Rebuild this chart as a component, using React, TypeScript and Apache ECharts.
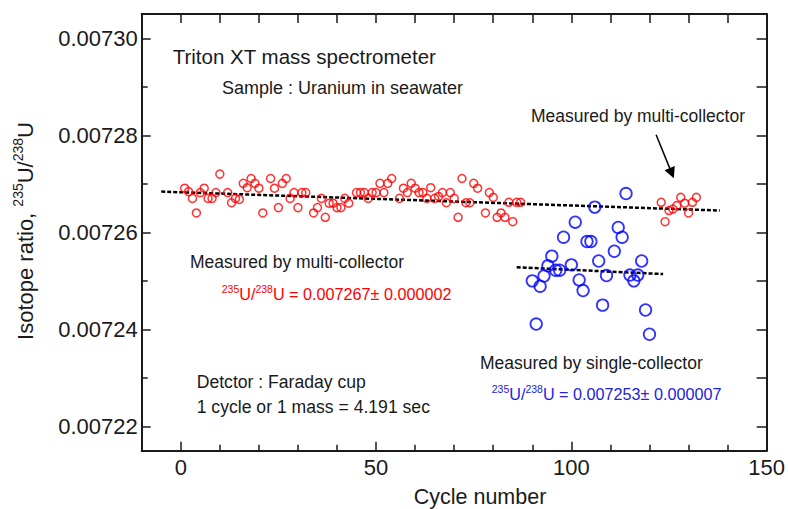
import React, { useEffect, useRef } from 'react';
import * as echarts from 'echarts';

const FONT = '"Liberation Sans", Arial, Helvetica, sans-serif';
const INK = '#1a1a1a';
const RED = '#ff0000';
const BLUE = '#0000ff';
const BLUE_TEXT = '#2323dd';

// Multi-collector measurements (red)
const redCycles = [
  1, 2, 3, 4, 5, 6, 7, 8, 9, 10, 12, 13, 14, 15, 16, 17, 18, 19, 20, 21, 23, 24, 25, 26, 27, 28, 29, 30, 31, 32,
  34, 35, 36, 37, 38, 39, 40, 41, 42, 43, 45, 46, 47, 48, 49, 50, 51, 52, 53, 54, 56, 57, 58, 59, 60, 61, 62, 63,
  64, 65, 66, 67, 68, 69, 70, 71, 72, 73, 74, 75, 76, 78, 79, 80, 81, 82, 83, 84, 85, 86, 87,
  123, 124, 125, 126, 127, 128, 129, 130, 131, 132,
];
const redValues = [
  0.0072691, 0.0072684, 0.007267, 0.007264, 0.0072682, 0.0072691, 0.007267, 0.007267, 0.0072682, 0.007272,
  0.0072682, 0.0072661, 0.007267, 0.0072668, 0.0072701, 0.0072692, 0.0072711, 0.0072701, 0.0072691, 0.007264,
  0.0072711, 0.0072691, 0.0072651, 0.0072701, 0.0072711, 0.007267, 0.0072682, 0.0072651, 0.0072682, 0.0072682,
  0.007264, 0.0072651, 0.007267, 0.0072631, 0.007266, 0.007266, 0.0072651, 0.0072651, 0.007267, 0.007266,
  0.0072682, 0.0072682, 0.0072682, 0.007267, 0.0072682, 0.0072682, 0.0072701, 0.0072682, 0.0072701, 0.0072711,
  0.007267, 0.0072691, 0.0072682, 0.0072701, 0.0072691, 0.0072682, 0.0072682, 0.007267, 0.0072692, 0.007267,
  0.0072674, 0.0072682, 0.0072661, 0.0072682, 0.007267, 0.0072631, 0.0072711, 0.0072661, 0.0072661, 0.0072701,
  0.0072691, 0.007264, 0.0072682, 0.0072672, 0.0072631, 0.007264, 0.0072631, 0.0072662, 0.0072622, 0.0072662,
  0.0072662,
  0.0072662, 0.0072622, 0.0072645, 0.0072648, 0.0072655, 0.0072672, 0.007266, 0.007264, 0.0072662, 0.0072672,
];

// Single-collector measurements (blue)
const blueCycles = [
  90, 91, 92, 93, 94, 95, 96, 97, 98, 100, 101, 102, 103, 104, 105, 106, 107, 108, 109, 111, 112, 113, 114, 115,
  116, 117, 118, 119, 120,
];
const blueValues = [
  0.00725, 0.0072411, 0.0072489, 0.007251, 0.0072531, 0.0072551, 0.0072522, 0.0072522, 0.007259, 0.0072533,
  0.0072621, 0.0072502, 0.007248, 0.0072581, 0.0072581, 0.0072652, 0.0072541, 0.007245, 0.0072511, 0.0072561,
  0.007261, 0.007259, 0.007268, 0.0072512, 0.00725, 0.0072512, 0.0072541, 0.007244, 0.007239,
];

// Trend lines
const redTrendX = [-5, 138];
const redTrendY = [0.0072684, 0.0072645];
const blueTrendX = [86, 123.5];
const blueTrendY = [0.0072528, 0.0072514];

// Arrow annotation (data coordinates)
const arrowX = [121.7, 125.7];
const arrowY = [0.0072801, 0.0072722];

// Axis ticks
const xMin = -10;
const xMax = 150;
const xMajor = [0, 50, 100, 150];
const xMinor = [10, 20, 30, 40, 60, 70, 80, 90, 110, 120, 130, 140];
const xTop = [0, 10, 20, 30, 40, 50, 60, 70, 80, 90, 100, 110, 120, 130, 140, 150];
const yMin = 0.007215;
const yMax = 0.007305;
const yMajor = [0.00722, 0.00724, 0.00726, 0.00728, 0.0073];
const yMinor = [0.00723, 0.00725, 0.00727, 0.00729];
const yRight = [0.00722, 0.00723, 0.00724, 0.00725, 0.00726, 0.00727, 0.00728, 0.00729, 0.0073];

const zip = (a: number[], b: number[]) => a.map((v, i) => [v, b[i]]);

function buildOption(): any {
  const baseX = { type: 'value', min: xMin, max: xMax, splitLine: { show: false } };
  const baseY = { type: 'value', min: yMin, max: yMax, splitLine: { show: false } };
  const line = { show: true, onZero: false, lineStyle: { color: INK, width: 2 } };
  const noLine = { show: false, onZero: false };
  const tickStyle = { color: INK, width: 1.5 };
  const txt = (text: string, x: number, y: number, size: number, color = INK, align = 'left') => ({
    type: 'text',
    x,
    y,
    style: { text, fill: color, fontSize: size, fontFamily: FONT, align, verticalAlign: 'middle' },
  });
  const formula = (value: string, x: number, y: number, color: string) => ({
    type: 'text',
    x,
    y,
    style: {
      text: `{s|235}{m|U/}{s|238}{m|U = ${value}}`,
      fill: color,
      fontFamily: FONT,
      fontSize: 16.2,
      align: 'left',
      verticalAlign: 'middle',
      rich: {
        s: { fontSize: 10.5, fill: color, fontFamily: FONT, verticalAlign: 'top', lineHeight: 11 },
        m: { fontSize: 16.2, fill: color, fontFamily: FONT, lineHeight: 21 },
      },
    },
  });

  return {
    animation: false,
    backgroundColor: '#ffffff',
    grid: { left: 141.7, right: 19.7, top: 14, bottom: 58.3, containLabel: false },
    xAxis: [
      {
        ...baseX,
        position: 'bottom',
        axisLine: line,
        axisTick: { show: true, inside: true, length: 9, customValues: xMajor, lineStyle: tickStyle },
        axisLabel: { show: true, customValues: xMajor, fontSize: 22, color: INK, fontFamily: FONT, margin: 6 },
      },
      {
        ...baseX,
        position: 'bottom',
        axisLine: noLine,
        axisTick: { show: true, inside: true, length: 6, customValues: xMinor, lineStyle: tickStyle },
        axisLabel: { show: false },
      },
      {
        ...baseX,
        position: 'top',
        axisLine: line,
        axisTick: { show: true, inside: true, length: 9, customValues: xTop, lineStyle: tickStyle },
        axisLabel: { show: false },
      },
    ],
    yAxis: [
      {
        ...baseY,
        position: 'left',
        axisLine: line,
        axisTick: { show: true, inside: true, length: 9, customValues: yMajor, lineStyle: tickStyle },
        axisLabel: {
          show: true,
          customValues: yMajor,
          fontSize: 22,
          color: INK,
          fontFamily: FONT,
          margin: 4,
          formatter: (v: number) => v.toFixed(5),
        },
      },
      {
        ...baseY,
        position: 'left',
        axisLine: noLine,
        axisTick: { show: true, inside: true, length: 6, customValues: yMinor, lineStyle: tickStyle },
        axisLabel: { show: false },
      },
      {
        ...baseY,
        position: 'right',
        axisLine: line,
        axisTick: { show: true, inside: true, length: 10, customValues: yRight, lineStyle: tickStyle },
        axisLabel: { show: false },
      },
    ],
    series: [
      {
        type: 'line',
        data: zip(redTrendX, redTrendY),
        symbol: 'none',
        lineStyle: { color: '#000', width: 2.5, type: [4, 2] },
        z: 3,
      },
      {
        type: 'line',
        data: zip(blueTrendX, blueTrendY),
        symbol: 'none',
        lineStyle: { color: '#000', width: 2.5, type: [4, 2] },
        z: 3,
      },
      {
        type: 'scatter',
        data: zip(redCycles, redValues),
        symbol: 'circle',
        symbolSize: 8,
        itemStyle: { color: 'rgba(0,0,0,0)', borderColor: RED, borderWidth: 1.5 },
        z: 4,
      },
      {
        type: 'scatter',
        data: zip(blueCycles, blueValues),
        symbol: 'circle',
        symbolSize: 11.5,
        itemStyle: { color: 'rgba(0,0,0,0)', borderColor: BLUE, borderWidth: 1.8 },
        z: 4,
      },
      {
        type: 'lines',
        coordinateSystem: 'cartesian2d',
        symbol: ['none', 'triangle'],
        symbolSize: 11,
        lineStyle: { color: '#000', width: 1.5, opacity: 1, curveness: 0 },
        itemStyle: { color: '#000' },
        data: [{ coords: zip(arrowX, arrowY) }],
        z: 5,
      },
    ],
    graphic: [
      txt('Triton XT mass spectrometer', 172.7, 56.5, 20.5),
      txt('Sample : Uranium in seawater', 222, 88, 18),
      txt('Measured by multi-collector', 531, 116, 17.5),
      txt('Measured by multi-collector', 190, 262, 17.5),
      formula('0.007267\u00b1 0.000002', 221.7, 293.5, RED),
      txt('Measured by single-collector', 480, 362.5, 17.5),
      formula('0.007253\u00b1 0.000007', 491.7, 393.5, BLUE_TEXT),
      txt('Detctor : Faraday cup', 196.7, 381.7, 17.6),
      txt('1 cycle or 1 mass = 4.191 sec', 196.7, 406.7, 17.6),
      txt('Cycle number', 480, 497, 21.5, INK, 'center'),
      {
        type: 'text',
        x: 25,
        y: 231,
        rotation: Math.PI / 2,
        style: {
          text: '{m|Isotope ratio, }{s|235}{m|U/}{s|238}{m|U}',
          fill: INK,
          fontFamily: FONT,
          fontSize: 22,
          align: 'center',
          verticalAlign: 'middle',
          rich: {
            s: { fontSize: 14, fill: INK, fontFamily: FONT, verticalAlign: 'top', lineHeight: 15 },
            m: { fontSize: 22, fill: INK, fontFamily: FONT, lineHeight: 28 },
          },
        },
      },
    ],
  };
}

export default function App() {
  const ref = useRef<HTMLDivElement>(null);
  useEffect(() => {
    if (!ref.current) return;
    const chart = echarts.init(ref.current, null, { renderer: 'svg' });
    chart.setOption(buildOption());
    return () => chart.dispose();
  }, []);
  return (
    <div
      ref={ref}
      style={{ width: 788, height: 509, position: 'absolute', left: 0, top: 0, background: '#fff' }}
    />
  );
}
